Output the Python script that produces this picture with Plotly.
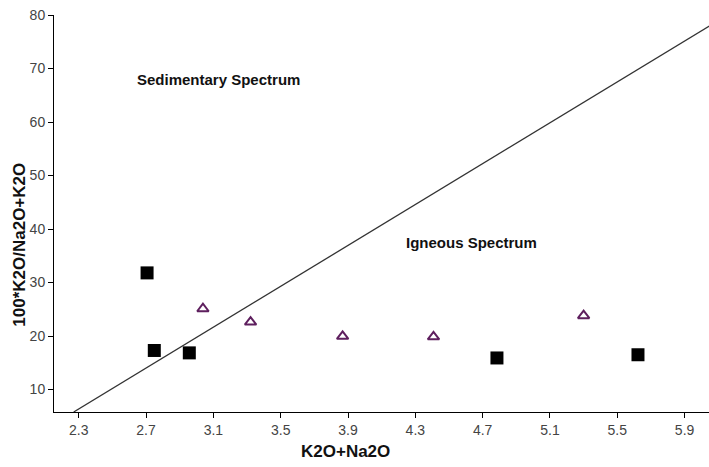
import plotly.graph_objects as go

# Data
square_x = [2.706, 2.749, 2.957, 4.785, 5.623]
square_y = [31.8, 17.3, 16.85, 15.9, 16.5]
tri_x = [3.038, 3.321, 3.868, 4.408, 5.300]
tri_y = [25.1, 22.6, 19.95, 19.85, 23.8]
boundary_x = [2.27, 6.05]
boundary_y = [5.8, 78.0]
x_ticks = [2.3, 2.7, 3.1, 3.5, 3.9, 4.3, 4.7, 5.1, 5.5, 5.9]
y_ticks = [10, 20, 30, 40, 50, 60, 70, 80]

fig = go.Figure()
fig.add_trace(go.Scatter(x=boundary_x, y=boundary_y, mode="lines",
                         line=dict(color="#333333", width=1.3), hoverinfo="skip"))
fig.add_trace(go.Scatter(x=square_x, y=square_y, mode="markers",
                         marker=dict(symbol="square", size=13, color="#000000")))
fig.add_trace(go.Scatter(x=tri_x, y=tri_y, mode="markers",
                         marker=dict(symbol="triangle-up-open", size=10,
                                     color="#5e1f5e", line=dict(width=2, color="#5e1f5e"))))

tickfont = dict(family="Liberation Sans, Arial, sans-serif", size=14, color="#444444")

W = 655.0
H = 397.5
def px_to_paper(px, py):
    return (px - 54) / W, (412.5 - py) / H

ann_font = dict(family="Liberation Sans, Arial, sans-serif", size=15, color="#111111")
title_font = dict(family="Liberation Sans, Arial, sans-serif", size=17, color="#111111")

annotations = []
ax, ay = px_to_paper(135, 80)
annotations.append(dict(text="<b>Sedimentary Spectrum</b>", x=ax, y=ay, xref="paper", yref="paper",
                        xanchor="left", yanchor="middle", showarrow=False, font=ann_font))
ax, ay = px_to_paper(404, 243)
annotations.append(dict(text="<b>Igneous Spectrum</b>", x=ax, y=ay, xref="paper", yref="paper",
                        xanchor="left", yanchor="middle", showarrow=False, font=ann_font))
ax, ay = px_to_paper(345, 452)
annotations.append(dict(text="<b>K2O+Na2O</b>", x=ax, y=ay, xref="paper", yref="paper",
                        xanchor="center", yanchor="middle", showarrow=False, font=title_font))
ax, ay = px_to_paper(20, 245)
annotations.append(dict(text="<b>100*K2O/Na2O+K2O</b>", x=ax, y=ay, xref="paper", yref="paper",
                        xanchor="center", yanchor="middle", textangle=-90, showarrow=False,
                        font=title_font))

fig.update_layout(
    width=709, height=467,
    margin=dict(l=54, r=0, t=15, b=55),
    paper_bgcolor="white", plot_bgcolor="white",
    showlegend=False,
    xaxis=dict(range=[2.153, 6.045], tickvals=x_ticks, ticktext=[f"{v:.1f}" for v in x_ticks],
               showgrid=False, zeroline=False, showline=True, linecolor="#000000", linewidth=1,
               ticks="outside", ticklen=5, tickcolor="#000000", tickfont=tickfont),
    yaxis=dict(range=[5.8, 80], tickvals=y_ticks,
               showgrid=False, zeroline=False, showline=True, linecolor="#000000", linewidth=1,
               ticks="outside", ticklen=5, tickcolor="#000000", tickfont=tickfont),
    annotations=annotations,
)

fig.write_html("out.html")
